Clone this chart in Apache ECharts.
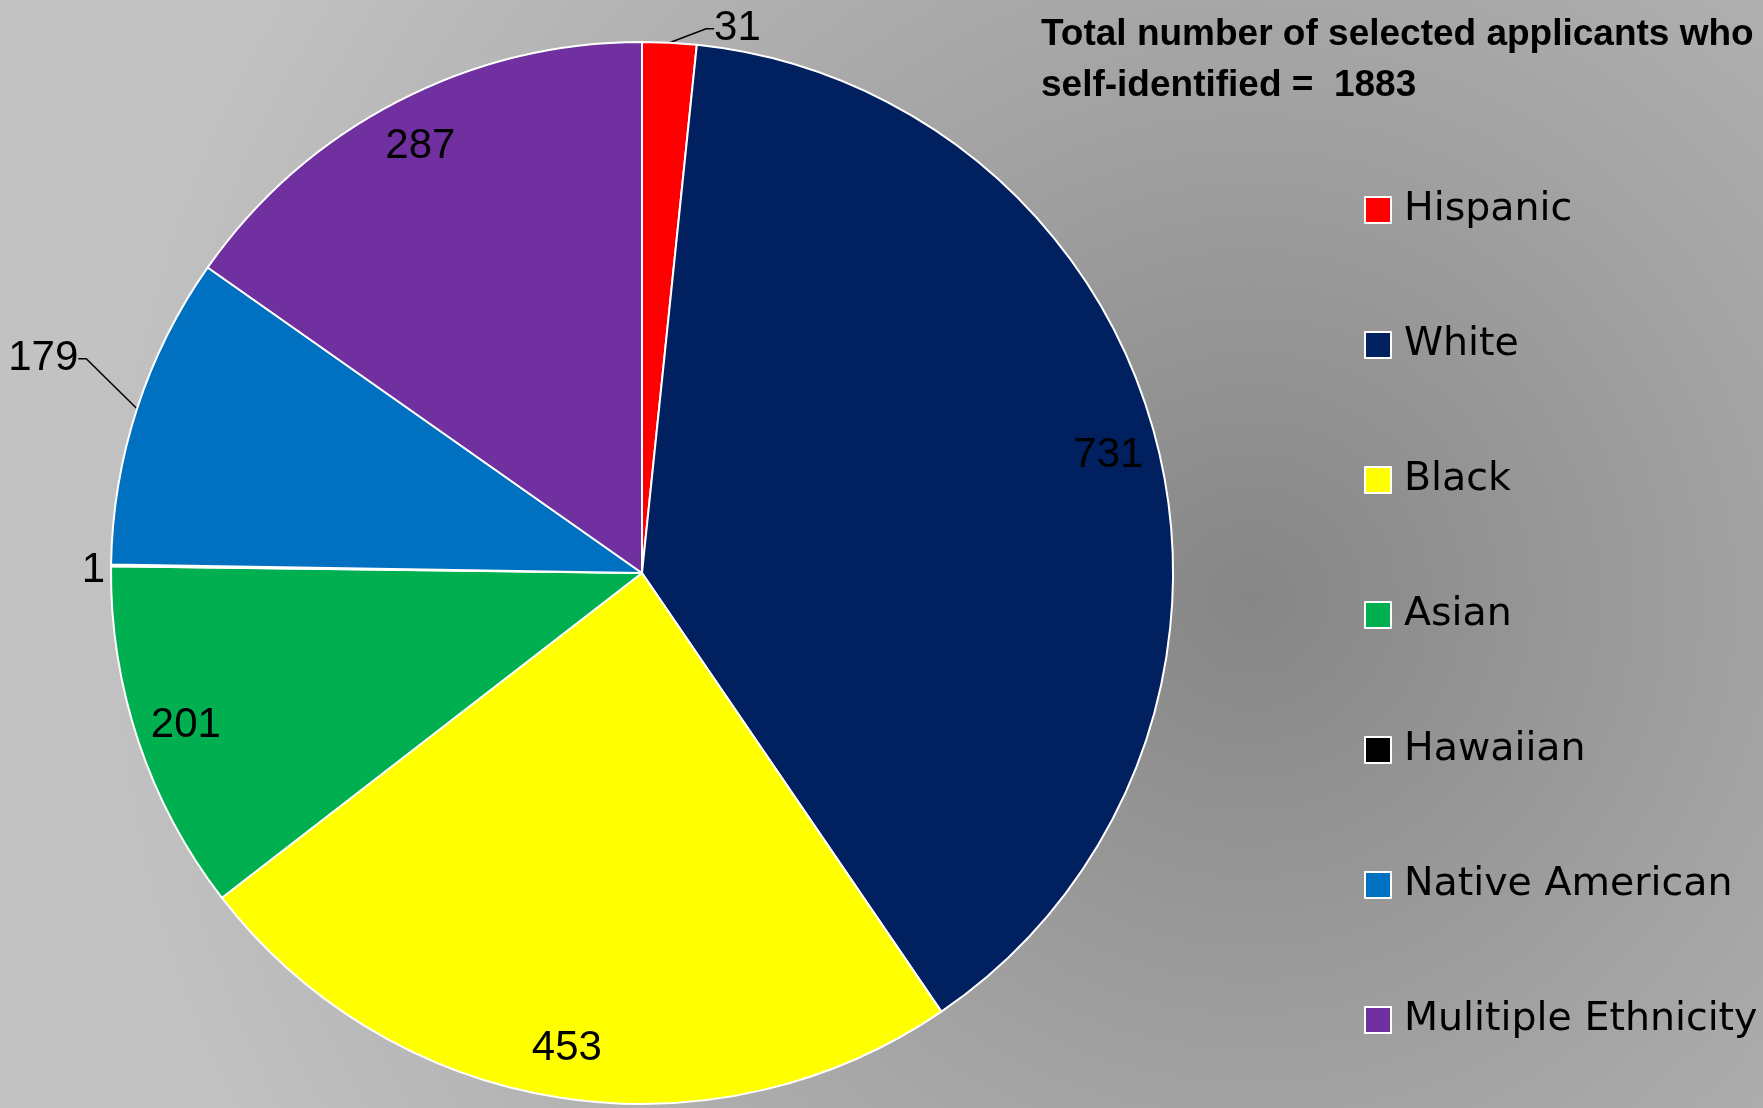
<!DOCTYPE html>
<html>
<head>
<meta charset="utf-8">
<script src="https://cdn.jsdelivr.net/npm/echarts@6/dist/echarts.min.js"></script>
<style>
html,body{margin:0;padding:0;width:1763px;height:1108px;overflow:hidden;}
#chart{width:1763px;height:1108px;}
</style>
</head>
<body>
<div id="chart"></div>
<script>
// ---- data ----
const categories = ['Hispanic', 'White', 'Black', 'Asian', 'Hawaiian', 'Native American', 'Mulitiple Ethnicity'];
const counts = [31, 731, 453, 201, 1, 179, 287];
const colors = ['#ff0000', '#002060', '#ffff00', '#00b050', '#000000', '#0070c0', '#7030a0'];
const titleLines = ['Total number of selected applicants who', 'self-identified =  1883'];

// ---- style: which slices get an outside label, leader line lengths and label nudges ----
const outsideLabel = {
  'Hispanic':        { length: 12, length2: 8, line: true,  dx: 32, dy: -2 },
  'Hawaiian':        { length: 2,  length2: 2, line: false, dx: 2,  dy: 5 },
  'Native American': { length: 45, length2: 8, line: true,  dx: -4, dy: -36 }
};

const R = 531;
const FONT = "'Liberation Sans', Arial, sans-serif";

const mainData = categories.map((name, i) => {
  const o = outsideLabel[name];
  return {
    name: name,
    value: counts[i],
    itemStyle: { color: colors[i] },
    label: { show: !!o },
    labelLine: o ? { show: o.line, length: o.length, length2: o.length2 } : { show: false }
  };
});

const insideData = categories.map((name, i) => ({
  name: name,
  value: counts[i],
  label: { show: !outsideLabel[name] }
}));

const chart = echarts.init(document.getElementById('chart'), null, { renderer: 'canvas' });
chart.setOption({
  animation: false,
  backgroundColor: {
    type: 'radial', x: 0.71, y: 0.54, r: 1.05,
    colorStops: [
      { offset: 0, color: '#868686' },
      { offset: 0.45, color: '#a3a3a3' },
      { offset: 1, color: '#c2c2c2' }
    ]
  },
  title: {
    text: titleLines.join('\n'),
    left: 1041, top: 9,
    padding: 0,
    textStyle: { fontFamily: FONT, fontWeight: 'bold', fontSize: 37, lineHeight: 51, color: '#000' }
  },
  legend: {
    orient: 'vertical',
    left: 1364, top: 190,
    padding: 0,
    itemWidth: 26, itemHeight: 26,
    itemGap: 95,
    icon: 'rect',
    data: categories,
    itemStyle: { borderColor: '#ffffff', borderWidth: 2 },
    textStyle: { fontFamily: "'DejaVu Sans', sans-serif", fontSize: 39.5, lineHeight: 40, color: '#000', padding: [0, 0, 0, 8] },
    selectedMode: false
  },
  series: [
    {
      type: 'pie',
      center: [642, 573],
      radius: [0, R],
      startAngle: 90,
      clockwise: true,
      avoidLabelOverlap: false,
      silent: true,
      itemStyle: { borderColor: '#ffffff', borderWidth: 2 },
      label: {
        position: 'outside',
        formatter: '{c}',
        fontFamily: FONT, fontSize: 42, color: '#000',
        distanceToLabelLine: 4
      },
      labelLine: { lineStyle: { color: '#000', width: 1.5 } },
      labelLayout: function (p) {
        const o = outsideLabel[categories[p.dataIndex]];
        if (!o) return {};
        const r = p.labelRect;
        const leftSide = (r.x + r.width / 2) < 642;
        return {
          x: (leftSide ? r.x + r.width : r.x) + o.dx,
          y: r.y + r.height / 2 + o.dy,
          align: leftSide ? 'right' : 'left',
          verticalAlign: 'middle'
        };
      },
      emphasis: { disabled: true },
      data: mainData
    },
    {
      type: 'pie',
      center: [642, 573],
      radius: [Math.round(0.8 * R), R],
      startAngle: 90,
      clockwise: true,
      avoidLabelOverlap: false,
      silent: true,
      itemStyle: { color: 'rgba(0,0,0,0)', borderWidth: 0 },
      label: {
        position: 'inside',
        formatter: '{c}',
        fontFamily: FONT, fontSize: 42, color: '#000'
      },
      labelLine: { show: false },
      emphasis: { disabled: true },
      data: insideData
    }
  ]
});
</script>
</body>
</html>
